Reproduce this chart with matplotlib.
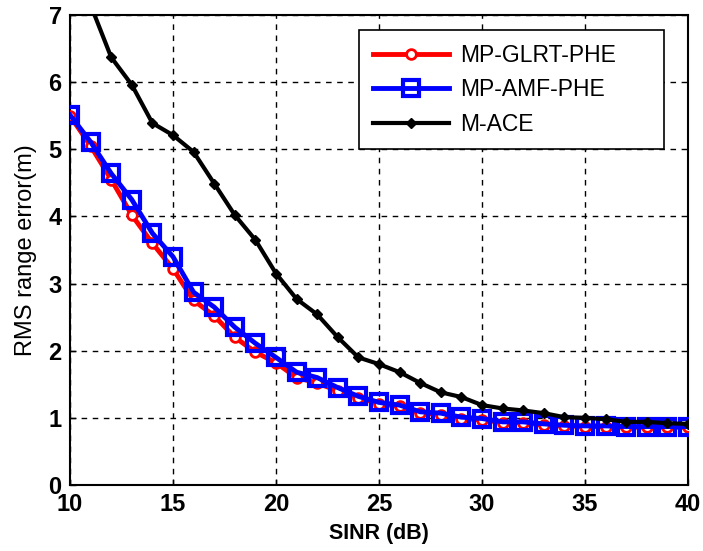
import numpy as np
import matplotlib.pyplot as plt

# SINR axis (dB)
sinr = list(range(10, 41))

# RMS range error (m)
glrt_phe = [5.50, 5.05, 4.55, 4.02, 3.60, 3.22, 2.75, 2.52, 2.20, 1.98,
            1.82, 1.60, 1.52, 1.40, 1.30, 1.21, 1.17, 1.07, 1.05, 0.99,
            0.97, 0.93, 0.93, 0.89, 0.88, 0.87, 0.87, 0.86, 0.86, 0.86, 0.86]
amf_phe = [5.51, 5.11, 4.64, 4.25, 3.75, 3.40, 2.87, 2.65, 2.35, 2.11,
           1.90, 1.68, 1.60, 1.45, 1.32, 1.23, 1.19, 1.09, 1.07, 1.01,
           0.99, 0.94, 0.94, 0.91, 0.89, 0.88, 0.88, 0.87, 0.87, 0.87, 0.87]
m_ace = [7.90, 7.15, 6.37, 5.96, 5.39, 5.21, 4.96, 4.49, 4.02, 3.65,
         3.15, 2.77, 2.54, 2.20, 1.90, 1.80, 1.68, 1.52, 1.38, 1.31,
         1.19, 1.14, 1.11, 1.07, 1.01, 1.00, 0.98, 0.94, 0.94, 0.92, 0.91]

plt.rcParams['font.family'] = ['Liberation Sans', 'DejaVu Sans']

fig = plt.figure(figsize=(7.03, 5.51), dpi=100)
ax = fig.add_axes([70 / 703, 1 - 485 / 551, 618 / 703, 470 / 551])

ax.plot(sinr, glrt_phe, color='red', lw=3.5, marker='o', ms=7,
        mfc='white', mec='red', mew=2, label='MP-GLRT-PHE', zorder=3)
ax.plot(sinr, amf_phe, color='blue', lw=3.5, marker='s', ms=11,
        mfc='none', mec='blue', mew=3, label='MP-AMF-PHE', zorder=4)
ax.plot(sinr, m_ace, color='black', lw=3, marker='D', ms=5.5,
        mfc='black', mec='black', label='M-ACE', zorder=5)

ax.set_xlim(10, 40)
ax.set_ylim(0, 7)
ax.set_xticks(range(10, 41, 5))
ax.set_yticks(range(0, 8))
ax.grid(True, color='black', linestyle=(0, (4, 4)), linewidth=1)
ax.tick_params(direction='in', length=4, labelsize=17, width=1)
ax.tick_params(axis='x', pad=6)
ax.tick_params(axis='y', pad=6)
for lab in ax.get_xticklabels() + ax.get_yticklabels():
    lab.set_fontweight('bold')
for sp in ax.spines.values():
    sp.set_linewidth(1.5)

ax.set_xlabel('SINR (dB)', fontsize=15.5, fontweight='bold', labelpad=5)
ax.set_ylabel('RMS range error(m)', fontsize=17, labelpad=8)

# MATLAB-style box: wider than its content
leg = ax.legend(loc='upper left', bbox_to_anchor=(0.468, 0.717, 0.493, 0.251),
                mode='expand', borderaxespad=0, fontsize=16.5, fancybox=False,
                edgecolor='black', framealpha=1, handlelength=3.3,
                handletextpad=0.5, borderpad=0.6, labelspacing=0.5)
leg.get_frame().set_linewidth(1.2)

fig.savefig('out.png', dpi=100)
